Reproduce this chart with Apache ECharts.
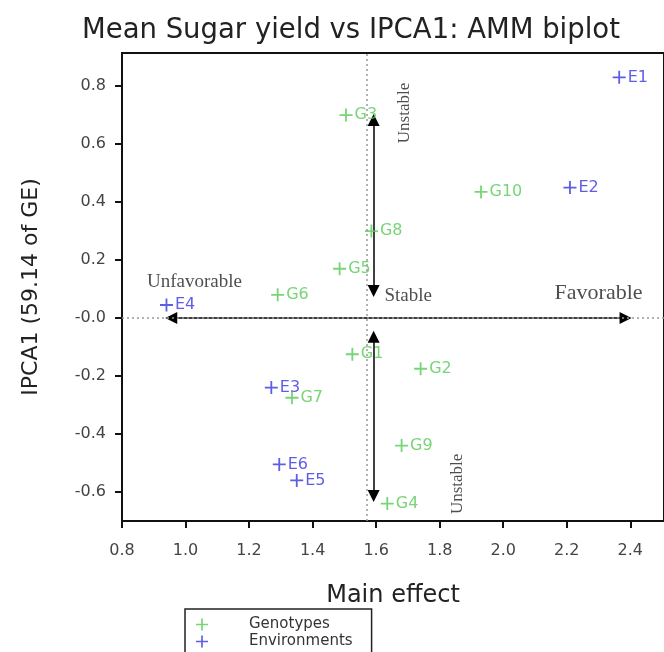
<!DOCTYPE html>
<html>
<head>
<meta charset="utf-8">
<script src="https://cdnjs.cloudflare.com/ajax/libs/echarts/6.0.0/echarts.min.js"></script>
<style>
    html, body { margin: 0; padding: 0; background: #fff; }
    #chart1 { width: 664px; height: 652px; }
</style>
</head>
<body>
<div id="chart1"></div>
<script>
    // genotypes: main effect (x) and IPCA1 score (y)
    var genoNames = ['G1', 'G2', 'G3', 'G4', 'G5', 'G6', 'G7', 'G8', 'G9', 'G10'];
    var genoMain  = [1.525, 1.74, 1.505, 1.635, 1.485, 1.29, 1.335, 1.585, 1.68, 1.93];
    var genoIpca  = [-0.125, -0.175, 0.70, -0.64, 0.17, 0.08, -0.275, 0.30, -0.44, 0.435];

    // environments
    var envNames = ['E1', 'E2', 'E3', 'E4', 'E5', 'E6'];
    var envMain  = [2.365, 2.21, 1.27, 0.94, 1.35, 1.295];
    var envIpca  = [0.83, 0.45, -0.24, 0.045, -0.56, -0.505];

    // tick values and their labels
    var xTicks = [0.8, 1.0, 1.2, 1.4, 1.6, 1.8, 2.0, 2.2, 2.4];
    var xTickLabels = ['0.8', '1.0', '1.2', '1.4', '1.6', '1.8', '2.0', '2.2', '2.4'];
    var yTicks = [-0.6, -0.4, -0.2, 0, 0.2, 0.4, 0.6, 0.8];
    var yTickLabels = ['-0.6', '-0.4', '-0.2', '-0.0', '0.2', '0.4', '0.6', '0.8'];

    // grand mean of main effect (dotted vertical line)
    var grandMean = 1.573;

    // arrows, in axis units
    var arrowH    = [[0.955, 0], [2.385, 0]];
    var arrowUp   = [[1.592, 0.683], [1.592, 0.093]];
    var arrowDown = [[1.592, -0.065], [1.592, -0.614]];

    // text notes on the plot
    var noteTexts = ['Unfavorable', 'Favorable', 'Stable', 'Unstable', 'Unstable'];
    var noteX = [1.028, 2.30, 1.701, 1.689, 1.855];
    var noteY = [0.124, 0.086, 0.076, 0.707, -0.572];

    var green = '#55c955';
    var blue = '#3535e0';
    var plusIcon = 'path://M0,5.6H5.6V0H7.4V5.6H13V7.4H7.4V13H5.6V7.4H0Z';

    function tickLabel(ticks, labels) {
        return function (v) {
            for (var i = 0; i < ticks.length; i++) {
                if (Math.abs(v - ticks[i]) < 1e-6) return labels[i];
            }
            return '';
        };
    }

    function points(names, xs, ys) {
        var out = [];
        for (var i = 0; i < names.length; i++) {
            out.push({ name: names[i], value: [xs[i], ys[i]] });
        }
        return out;
    }

    var notes = [];
    for (var i = 0; i < noteTexts.length; i++) {
        var sz = (noteTexts[i] == 'Favorable') ? 22 : (noteTexts[i] == 'Unstable' ? 17 : 19);
        notes.push({
            name: noteTexts[i],
            value: [noteX[i], noteY[i]],
            label: { fontSize: sz, rotate: noteTexts[i] == 'Unstable' ? 90 : 0 }
        });
    }

    var sans = 'DejaVu Sans';
    var chart = echarts.init(document.getElementById('chart1'));
    var option = {
        animation: false,
        backgroundColor: '#fff',
        title: {
            text: 'Mean Sugar yield vs IPCA1: AMM biplot',
            left: 82,
            top: 17,
            padding: 0,
            textStyle: { fontFamily: sans, fontSize: 27.5, fontWeight: 'normal', color: '#222' }
        },
        legend: {
            orient: 'vertical',
            left: 185,
            top: 609,
            width: 188,
            height: 50,
            padding: [8, 19, 8, 11],
            borderColor: '#222',
            borderWidth: 1.5,
            itemWidth: 12,
            itemHeight: 12,
            itemGap: 2,
            icon: plusIcon,
            textStyle: { fontFamily: sans, fontSize: 15, color: '#333', padding: [0, 0, 0, 36] },
            data: ['Genotypes', 'Environments']
        },
        grid: {
            left: 122,
            top: 53,
            right: -3,
            bottom: 131,
            show: true,
            borderColor: '#111',
            borderWidth: 2
        },
        xAxis: {
            type: 'value',
            min: 0.8,
            max: 2.506,
            name: 'Main effect',
            nameLocation: 'middle',
            nameGap: 63,
            nameTextStyle: { fontFamily: sans, fontSize: 24, color: '#222' },
            axisLine: { show: true, onZero: false, lineStyle: { color: '#111', width: 2 } },
            axisTick: { show: true, customValues: xTicks, length: 7, lineStyle: { color: '#111', width: 2 } },
            axisLabel: { customValues: xTicks, margin: 22, fontFamily: sans, fontSize: 16, color: '#444',
                formatter: tickLabel(xTicks, xTickLabels) },
            splitLine: { show: false }
        },
        yAxis: {
            type: 'value',
            min: -0.70,
            max: 0.914,
            name: 'IPCA1 (59.14 of GE)',
            nameLocation: 'middle',
            nameGap: 80,
            nameTextStyle: { fontFamily: sans, fontSize: 22, color: '#222' },
            axisLine: { show: true, onZero: false, lineStyle: { color: '#111', width: 2 } },
            axisTick: { show: true, customValues: yTicks, length: 7, lineStyle: { color: '#111', width: 2 } },
            axisLabel: { customValues: yTicks, margin: 16, fontFamily: sans, fontSize: 16, color: '#444',
                formatter: tickLabel(yTicks, yTickLabels) },
            splitLine: { show: false }
        },
        series: [
            {
                // notes and dotted reference lines
                type: 'scatter',
                symbolSize: 0,
                silent: true,
                data: notes,
                label: {
                    show: true,
                    position: 'inside',
                    formatter: '{b}',
                    fontFamily: 'Liberation Serif',
                    color: '#222'
                },
                markLine: {
                    silent: true,
                    symbol: 'none',
                    label: { show: false },
                    lineStyle: { color: '#999', type: [2, 3], width: 1.5 },
                    data: [{ xAxis: grandMean }, { yAxis: 0 }]
                },
                z: 2
            },
            {
                type: 'lines',
                coordinateSystem: 'cartesian2d',
                symbol: ['triangle', 'triangle'],
                symbolSize: [12, 12],
                silent: true,
                lineStyle: { color: '#000', width: 1.5, opacity: 1 },
                data: [{ coords: arrowH }, { coords: arrowUp }, { coords: arrowDown }],
                z: 3
            },
            {
                name: 'Genotypes',
                type: 'scatter',
                symbol: plusIcon,
                symbolSize: 13,
                itemStyle: { color: green },
                label: { show: true, position: 'right', distance: 2, formatter: '{b}',
                    fontFamily: sans, fontSize: 16, color: green },
                data: points(genoNames, genoMain, genoIpca),
                z: 4
            },
            {
                name: 'Environments',
                type: 'scatter',
                symbol: plusIcon,
                symbolSize: 13,
                itemStyle: { color: blue },
                label: { show: true, position: 'right', distance: 2, formatter: '{b}',
                    fontFamily: sans, fontSize: 16, color: blue },
                data: points(envNames, envMain, envIpca),
                z: 4
            }
        ]
    };
    option && chart.setOption(option);
</script>
</body>
</html>
